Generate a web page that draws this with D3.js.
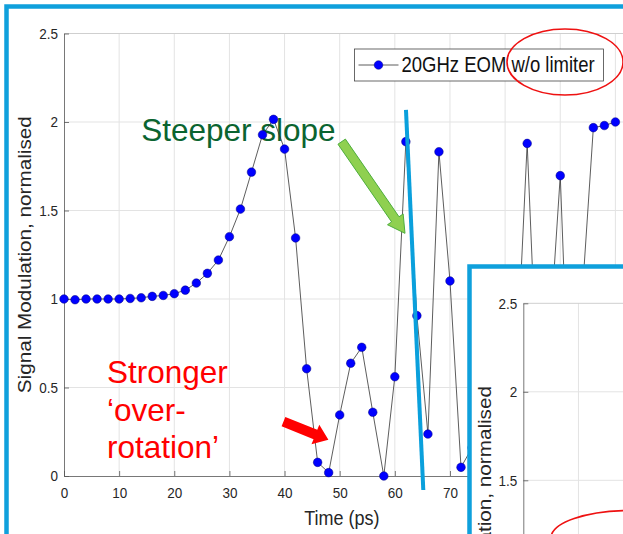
<!DOCTYPE html>
<html>
<head>
<meta charset="utf-8">
<script src="https://cdn.jsdelivr.net/npm/d3@7/dist/d3.min.js"></script>
<style>
  html, body { margin: 0; padding: 0; background: #fff; }
  svg { display: block; font-family: "Liberation Sans", Arial, Helvetica, sans-serif; }
</style>
</head>
<body>
<svg id="chart" width="623" height="534"></svg>
<script>
// ---------- data ----------
const time = [0,2,4,6,8,10,12,14,16,18,20,22,24,26,28,30,32,34,36,38,40,42,44,46,48,50,
  52,54,56,58,60,62,64,66,68,70,72,74,76,78,80,82,84,86,88,90,92,94,96,98,100];
const signal = [1.0,0.996,1.0,1.0,1.0,1.0,1.003,1.007,1.015,1.02,1.03,1.05,1.09,1.145,1.22,
  1.352,1.508,1.717,1.928,2.015,1.847,1.345,0.606,0.077,0.019,0.345,0.637,0.727,0.36,0.0,
  0.561,1.889,0.906,0.237,1.832,1.102,0.049,0.16,0.85,0.25,1.0,0.55,1.879,0.39,0.74,1.697,
  0.05,1.03,1.968,1.98,2.0];
const xTicks = [0,10,20,30,40,50,60,70,80,90,100];
const xTickLabels = ["0","10","20","30","40","50","60","70","80","90","100"];
const yTicks = [0,0.5,1,1.5,2,2.5];
const yTickLabels = ["0","0.5","1","1.5","2","2.5"];
const seriesName = "20GHz EOM w/o limiter";
const xLabel = "Time (ps)";
const yLabel = "Signal Modulation, normalised";
const noteSlope = "Steeper slope";
const noteOver = ["Stronger", "\u2018over-", "rotation\u2019"];

// ---------- setup ----------
const svg = d3.select("#chart");
const BLUE = "#0fa0dc";
const SY = 1.15; // chart picture is stretched vertically in the slide
const x = d3.scaleLinear().domain([0, 101.6]).range([64, 64 + 101.6 * 5.514]);
const y = d3.scaleLinear().domain([0, 2.5]).range([476, 33.5]);
const data = time.map((t, i) => ({t, v: signal[i]}));

// outer slide frame
svg.append("rect").attr("x", 6.5).attr("y", 6.5).attr("width", 700).attr("height", 700)
  .attr("fill", "#fff").attr("stroke", BLUE).attr("stroke-width", 4.5);

function drawAxes(g, opts) {
  const xr = x.domain()[1];
  // grid
  g.append("g").selectAll("line").data(xTicks.slice(1)).join("line")
    .attr("x1", d => x(d)).attr("x2", d => x(d)).attr("y1", y(0)).attr("y2", y(2.5))
    .attr("stroke", "#e3e3e3").attr("stroke-width", 1);
  g.append("g").selectAll("line").data(yTicks.slice(1)).join("line")
    .attr("x1", x(0)).attr("x2", x(xr)).attr("y1", d => y(d)).attr("y2", d => y(d))
    .attr("stroke", d => d === 2.5 ? "#cfcfcf" : "#e3e3e3").attr("stroke-width", 1);

  const axes = [];
  if (opts.xLabels) {
    axes.push(g.append("g").attr("transform", `translate(0,${y(0)})`)
      .call(d3.axisBottom(x).tickValues(xTicks).tickFormat((d, i) => xTickLabels[i])
        .tickSize(-5).tickSizeOuter(0).tickPadding(9.8)));
  } else {
    g.append("line").attr("x1", x(0)).attr("x2", x(xr)).attr("y1", y(0)).attr("y2", y(0))
      .attr("stroke", "#555").attr("stroke-width", 0.8);
  }
  const yIdx = yTicks.map((d, i) => i).filter(i => yTicks[i] >= opts.yMin);
  axes.push(g.append("g").attr("transform", `translate(${x(0)},0)`)
    .call(d3.axisLeft(y).tickValues(yIdx.map(i => yTicks[i]))
      .tickFormat(d => yTickLabels[yTicks.indexOf(d)])
      .tickSize(-5).tickSizeOuter(0).tickPadding(6)));
  axes.forEach(a => {
    a.select(".domain").attr("stroke", "#555").attr("stroke-width", 0.8);
    a.selectAll(".tick line").attr("stroke", "#555").attr("stroke-width", 0.8);
    a.selectAll(".tick text").attr("fill", "#262626").style("font-size", "13.5px")
      .style("font-family", "'Liberation Sans', Arial, sans-serif")
      .attr("transform", `scale(1,${SY})`);
  });
  g.append("text")
    .attr("transform", `translate(25,${(y(0) + y(2.5)) / 2}) scale(1,${SY}) rotate(-90)`)
    .attr("text-anchor", "middle").attr("dy", "0.35em")
    .attr("fill", "#262626").style("font-size", "18px").text(yLabel);
}

// ---------- main chart ----------
const main = svg.append("g");
drawAxes(main, {xLabels: true, yMin: 0});
main.append("text").attr("transform", `translate(${x(50.4)},525) scale(1,${SY})`)
  .attr("text-anchor", "middle")
  .attr("fill", "#262626").style("font-size", "18px").text(xLabel);

// annotation text under data
main.append("text").attr("x", x(14.0)).attr("y", y(1.89))
  .attr("fill", "#0a6430").style("font-size", "31.5px").text(noteSlope);
main.append("g").selectAll("text").data(noteOver).join("text")
  .attr("x", x(7.8)).attr("y", (d, i) => y(0.527) + i * 37.8)
  .attr("fill", "#ff0000").style("font-size", "31.5px").text(d => d);

// series
main.append("path").datum(data)
  .attr("d", d3.line().x(d => x(d.t)).y(d => y(d.v)))
  .attr("fill", "none").attr("stroke", "#333").attr("stroke-width", 0.8);
main.append("g").selectAll("circle").data(data).join("circle")
  .attr("cx", d => x(d.t)).attr("cy", d => y(d.v)).attr("r", 4.3)
  .attr("fill", "#0000ff").attr("stroke", "#000080").attr("stroke-width", 0.5);

// legend
const lg = main.append("g").attr("transform", "translate(354.5,49)");
lg.append("rect").attr("width", 249).attr("height", 32).attr("fill", "#fff")
  .attr("stroke", "#444").attr("stroke-width", 0.8);
lg.append("line").attr("x1", 4).attr("x2", 44).attr("y1", 16).attr("y2", 16)
  .attr("stroke", "#333").attr("stroke-width", 0.8);
lg.append("circle").attr("cx", 24).attr("cy", 16).attr("r", 4.3)
  .attr("fill", "#0000ff").attr("stroke", "#000080").attr("stroke-width", 0.5);
lg.append("text").attr("transform", `translate(47,23) scale(1,${SY})`).attr("fill", "#111")
  .style("font-size", "18.5px").text(seriesName);

// red ellipse around legend
svg.append("ellipse").attr("cx", 565).attr("cy", 62).attr("rx", 58).attr("ry", 33)
  .attr("fill", "none").attr("stroke", "#ee1111").attr("stroke-width", 1.6);

// block arrow helper
function blockArrow(x0, y0, x1, y1, shaftW, headW, headL) {
  const dx = x1 - x0, dy = y1 - y0, L = Math.hypot(dx, dy);
  const ux = dx / L, uy = dy / L, px = -uy, py = ux;
  const bx = x1 - ux * headL, by = y1 - uy * headL;
  const pts = [
    [x0 + px * shaftW / 2, y0 + py * shaftW / 2],
    [bx + px * shaftW / 2, by + py * shaftW / 2],
    [bx + px * headW / 2, by + py * headW / 2],
    [x1, y1],
    [bx - px * headW / 2, by - py * headW / 2],
    [bx - px * shaftW / 2, by - py * shaftW / 2],
    [x0 - px * shaftW / 2, y0 - py * shaftW / 2]
  ];
  return "M" + pts.map(p => p.join(",")).join("L") + "Z";
}
// green arrow
svg.append("path").attr("d", blockArrow(x(50.36), y(1.889), x(61.84), y(1.371), 9, 19, 17))
  .attr("fill", "#8fd050").attr("stroke", "#4eae3c").attr("stroke-width", 1);
// red arrow
svg.append("path").attr("d", blockArrow(x(39.8), y(0.307), x(47.95), y(0.205), 10, 21, 14))
  .attr("fill", "#ff0000");
// blue slope line
svg.append("line").attr("x1", x(62.02)).attr("y1", y(2.068)).attr("x2", x(65.16)).attr("y2", y(-0.079))
  .attr("stroke", "#0aa0dc").attr("stroke-width", 4);

// ---------- inset (second slide, partly visible) ----------
svg.append("rect").attr("x", 469.5).attr("y", 266.5).attr("width", 400).attr("height", 400)
  .attr("fill", "#fff").attr("stroke", BLUE).attr("stroke-width", 4.5);
const inset = svg.append("g").attr("transform", "translate(459.3,269.8)");
drawAxes(inset, {xLabels: false, yMin: 1.5});
svg.append("ellipse").attr("cx", 630).attr("cy", 538).attr("rx", 79).attr("ry", 27.5)
  .attr("fill", "none").attr("stroke", "#ee1111").attr("stroke-width", 1.6);
</script>
</body>
</html>
